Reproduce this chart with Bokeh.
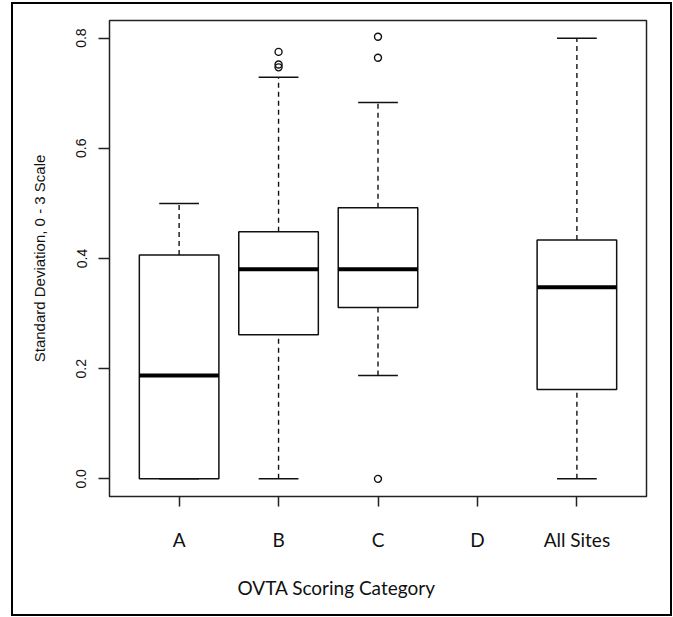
import math
from bokeh.plotting import figure
from bokeh.models import (ColumnDataSource, Range1d, FixedTicker, NumeralTickFormatter, Title)
from bokeh.embed import file_html
from bokeh.resources import INLINE

# ---- data ----
categories = ["A", "B", "C", "D", "All Sites"]
q1 = [0.0, 0.2615, 0.311, math.nan, 0.162]
median = [0.1875, 0.3804, 0.3804, math.nan, 0.348]
q3 = [0.4065, 0.4486, 0.492, math.nan, 0.4335]
whisker_low = [0.0, 0.0, 0.1875, math.nan, 0.0]
whisker_high = [0.5, 0.729, 0.683, math.nan, 0.8]
outlier_cat = ["B", "B", "B", "C", "C", "C"]
outlier_val = [0.747, 0.752, 0.775, 0.0, 0.7645, 0.8025]
y_ticks = [0.0, 0.2, 0.4, 0.6, 0.8]
y_title = "Standard Deviation, 0 - 3 Scale"
x_title = "OVTA Scoring Category"

BOX_W = 0.8
CAP_W = 0.4

pos = [i + 1 for i in range(len(categories))]
keep = [i for i in range(len(categories)) if not math.isnan(median[i])]
xs = [pos[i] for i in keep]
src = ColumnDataSource(dict(
    x=xs,
    left=[x - BOX_W / 2 for x in xs],
    right=[x + BOX_W / 2 for x in xs],
    cl=[x - CAP_W / 2 for x in xs],
    cr=[x + CAP_W / 2 for x in xs],
    q1=[q1[i] for i in keep],
    med=[median[i] for i in keep],
    q3=[q3[i] for i in keep],
    lo=[whisker_low[i] for i in keep],
    hi=[whisker_high[i] for i in keep],
))
out_src = ColumnDataSource(dict(
    x=[pos[categories.index(c)] for c in outlier_cat],
    y=outlier_val,
))

p = figure(width=661, height=614, output_backend="svg", toolbar_location=None,
           x_range=Range1d(0.3, 5.7), y_range=Range1d(-0.032, 0.832),
           min_border_left=96, min_border_right=28, min_border_top=16, min_border_bottom=117)
p.styles = {"margin-top": "2px", "margin-left": "11px",
            "border": "2px solid black"}
p.grid.visible = False
p.background_fill_color = "white"
p.border_fill_color = "white"
p.outline_line_color = "#222222"
p.outline_line_width = 1.5

# whiskers (dashed)
p.segment(x0="x", y0="q3", x1="x", y1="hi", source=src, line_color="#111111",
          line_width=1.4, line_dash="5 4")
p.segment(x0="x", y0="lo", x1="x", y1="q1", source=src, line_color="#111111",
          line_width=1.4, line_dash="5 4")
# caps
p.segment(x0="cl", y0="hi", x1="cr", y1="hi", source=src, line_color="#111111", line_width=1.5)
p.segment(x0="cl", y0="lo", x1="cr", y1="lo", source=src, line_color="#111111", line_width=1.5)
# boxes
p.quad(left="left", right="right", bottom="q1", top="q3", source=src,
       fill_color="white", line_color="#111111", line_width=1.5)
# medians
p.segment(x0="left", y0="med", x1="right", y1="med", source=src,
          line_color="black", line_width=4)
# outliers
p.scatter(x="x", y="y", source=out_src, marker="circle", size=7,
          fill_color=None, line_color="#111111", line_width=1.4)

# y axis
ya = p.yaxis[0]
ya.ticker = FixedTicker(ticks=y_ticks)
ya.formatter = NumeralTickFormatter(format="0.0")
ya.major_tick_out = 11
ya.major_tick_in = 0
ya.minor_tick_out = 0
ya.minor_tick_in = 0
ya.axis_line_color = None
ya.major_tick_line_color = "#222222"
ya.major_tick_line_width = 1.5
ya.major_label_orientation = "vertical"
ya.major_label_standoff = 12
ya.major_label_text_font = "Liberation Sans"
ya.major_label_text_font_size = "14px"
ya.major_label_text_color = "#111111"
ya.axis_label = y_title
ya.axis_label_standoff = 26
ya.axis_label_text_font = "Liberation Sans"
ya.axis_label_text_font_size = "15px"
ya.axis_label_text_font_style = "normal"
ya.axis_label_text_color = "#111111"

# x axis
xa = p.xaxis[0]
xa.ticker = FixedTicker(ticks=pos)
xa.major_label_overrides = {pos[i]: categories[i] for i in range(len(categories))}
xa.major_tick_out = 10
xa.major_tick_in = 0
xa.minor_tick_out = 0
xa.minor_tick_in = 0
xa.axis_line_color = None
xa.major_tick_line_color = "#222222"
xa.major_tick_line_width = 1.5
xa.major_label_standoff = 21
xa.major_label_text_font = "Lato"
xa.major_label_text_font_size = "19px"
xa.major_label_text_color = "#111111"

t = Title(text=x_title, align="left", offset=128, text_font="Lato",
          text_font_size="19px", text_font_style="normal", text_color="#111111",
          standoff=40)
p.add_layout(t, "below")

open("out.html", "w").write(file_html(p, INLINE))
